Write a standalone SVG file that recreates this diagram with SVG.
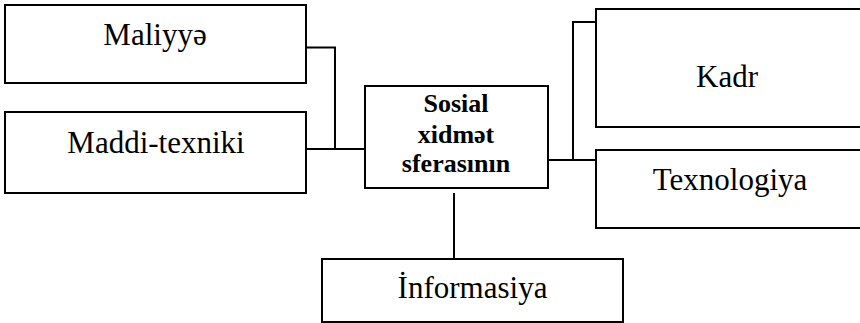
<svg xmlns="http://www.w3.org/2000/svg" width="860" height="323" viewBox="0 0 860 323">
<style>
.box{fill:#fff;stroke:#000;stroke-width:2}
.t{font-family:"Liberation Serif","Times New Roman",serif;font-size:31px;fill:#000;text-anchor:middle}
.b{font-family:"Liberation Serif","Times New Roman",serif;font-size:26px;font-weight:bold;fill:#000;text-anchor:middle}
.c{fill:none;stroke:#000;stroke-width:2}
</style>
<rect width="860" height="323" fill="#fff"/>
<g id="connectors">
<polyline class="c" points="306,47.5 335,47.5 335,149"/>
<line class="c" x1="306" y1="149" x2="365" y2="149"/>
<line class="c" x1="548" y1="160" x2="597" y2="160"/>
<polyline class="c" points="573,160 573,22 597,22"/>
<line class="c" x1="454" y1="193" x2="454" y2="259"/>
</g>
<g id="maliyye">
<rect class="box" x="5" y="5" width="301" height="78"/>
<text class="t" x="155" y="45">Maliyyə</text>
</g>
<g id="maddi-texniki">
<rect class="box" x="5" y="112" width="301" height="81"/>
<text class="t" x="156" y="153">Maddi-texniki</text>
</g>
<g id="sosial">
<rect class="box" x="365" y="86" width="183" height="102"/>
<text class="b" x="456" y="112">Sosial</text>
<text class="b" x="456" y="143">xidmət</text>
<text class="b" x="456" y="172">sferasının</text>
</g>
<g id="kadr">
<rect class="box" x="596" y="9" width="270" height="118"/>
<text class="t" x="727" y="87">Kadr</text>
</g>
<g id="texnologiya">
<rect class="box" x="596" y="150" width="270" height="78"/>
<text class="t" x="730" y="190">Texnologiya</text>
</g>
<g id="informasiya">
<rect class="box" x="322" y="259" width="301" height="63"/>
<text class="t" x="472.5" y="298">İnformasiya</text>
</g>
</svg>
